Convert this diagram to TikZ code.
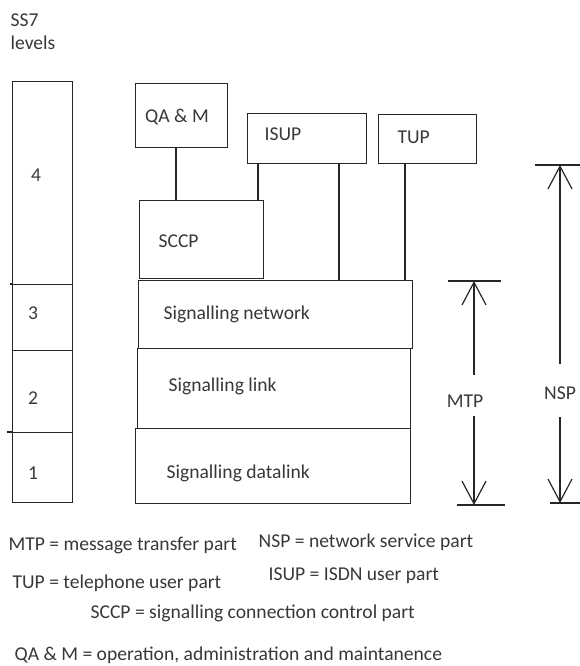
\documentclass[tikz,border=0pt]{standalone}
\usepackage{fontspec}
\setmainfont{Carlito}
\usetikzlibrary{arrows.meta}
\begin{document}
\begin{tikzpicture}[x=0.75pt,y=-0.75pt,
  line width=0.9pt, draw=black!85,
  box/.style={draw=black!85, inner sep=0pt, anchor=north west},
  txt/.style={inner sep=0pt, anchor=west, text=black!78, font=\fontsize{14.7}{16}\selectfont},
  ctxt/.style={inner sep=0pt, anchor=center, text=black!78, font=\fontsize{14.7}{16}\selectfont},
  barb/.style={-{Straight Barb[length=17pt,width=18pt,line width=0.9pt]}}
]
\useasboundingbox (0,0) rectangle (580,666);

% title
\node[txt] (ss7) at (10,20) {SS7};
\node[txt] (lev) at (10,43) {levels};

% level column
\node[box, minimum width=45pt, minimum height=152.25pt] (l4) at (12,81) {};
\node[box, minimum width=45pt, minimum height=49.5pt] (l3) at (12,284) {};
\node[box, minimum width=45pt, minimum height=61.5pt] (l2) at (12,350) {};
\node[box, minimum width=45pt, minimum height=52.5pt] (l1) at (12,432) {};
\coordinate (ov1) at (7,432);
\coordinate (ov2) at (10,284);
\draw (ov1) -- (l1.north west);
\draw (ov2) -- (l3.north west);
\node[ctxt] (t4) at (36,175) {4};
\node[ctxt] (t3) at (33,313) {3};
\node[ctxt] (t2) at (33,398) {2};
\node[ctxt] (t1) at (33,473) {1};

% upper protocol boxes
\node[box, minimum width=69pt, minimum height=48pt] (qam) at (135,83) {};
\node[box, minimum width=89.25pt, minimum height=37.5pt] (isup) at (247,113) {};
\node[box, minimum width=73.5pt, minimum height=36.75pt] (tup) at (378,114) {};
\node[box, minimum width=93pt, minimum height=58.5pt] (sccp) at (139,200) {};
\node[ctxt] (tqam) at (177,117) {QA \& M};
\node[txt] (tisup) at (264,134) {ISUP};
\node[txt] (ttup) at (397,137) {TUP};
\node[txt] (tsccp) at (158,241) {SCCP};

% MTP stack
\node[box, minimum width=205.5pt, minimum height=51pt] (net) at (138,280) {};
\node[box, minimum width=204.75pt, minimum height=60pt] (link) at (137,348) {};
\node[box, minimum width=206.25pt, minimum height=56.25pt] (data) at (135,428) {};
\node[txt] (tnet) at (163,314) {Signalling network};
\node[txt] (tlink) at (168,386) {Signalling link};
\node[txt] (tdata) at (166,473) {Signalling datalink};

% connectors
\draw ([xshift=30.75pt]qam.south west) -- ([xshift=30.75pt]qam.south west |- sccp.north);
\draw ([xshift=8.25pt]isup.south west) -- ([xshift=8.25pt]isup.south west |- sccp.north);
\draw ([xshift=69pt]isup.south west) -- ([xshift=69pt]isup.south west |- net.north);
\draw ([xshift=20.25pt]tup.south west) -- ([xshift=20.25pt]tup.south west |- net.north);

% MTP dimension
\node[ctxt] (mtp) at (465,401) {MTP};
\coordinate (mtpa) at (474,375);
\coordinate (mtpb) at (474,416);
\coordinate (mtptop) at (474,281);
\coordinate (mtpbot) at (474,505);
\coordinate (mtpl1) at (448,281);
\coordinate (mtpr1) at (501,281);
\coordinate (mtpl2) at (457,505);
\coordinate (mtpr2) at (505,505);
\draw (mtpl1) -- (mtpr1);
\draw (mtpl2) -- (mtpr2);
\draw[barb] (mtpa) -- (mtptop);
\draw[barb] (mtpb) -- (mtpbot);

% NSP dimension
\node[ctxt] (nsp) at (560,393) {NSP};
\coordinate (nspa) at (560,364);
\coordinate (nspb) at (560,417);
\coordinate (nsptop) at (560,165);
\coordinate (nspbot) at (560,503);
\coordinate (nspl1) at (535,165);
\coordinate (nspr1) at (580,165);
\coordinate (nspl2) at (550,503);
\coordinate (nspr2) at (580,503);
\draw (nspl1) -- (nspr1);
\draw (nspl2) -- (nspr2);
\draw[barb] (nspa) -- (nsptop);
\draw[barb] (nspb) -- (nspbot);

% legend
\node[txt] (g1) at (8,545) {MTP = message transfer part};
\node[txt] (g2) at (258,542) {NSP = network service part};
\node[txt] (g3) at (12,583) {TUP = telephone user part};
\node[txt] (g4) at (268,576) {ISUP = ISDN user part};
\node[txt] (g5) at (90,613) {SCCP = signalling connection control part};
\node[txt] (g6) at (14,655) {QA \& M = operation, administration and maintanence};
\end{tikzpicture}
\end{document}
